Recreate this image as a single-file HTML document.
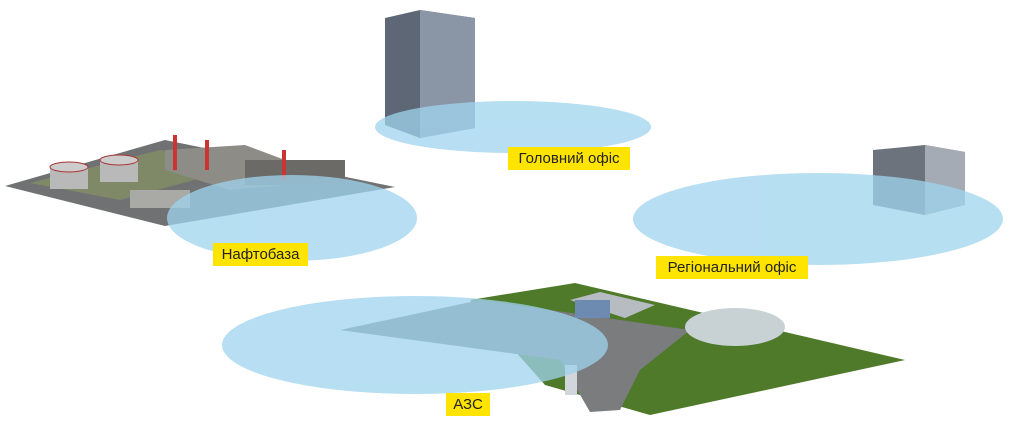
<!DOCTYPE html>
<html><head><meta charset="utf-8"><style>
body{margin:0;background:#fff;width:1024px;height:431px;overflow:hidden}
.l{position:absolute;background:#ffe400;font:15px "Liberation Sans",sans-serif;color:#222;text-align:center;line-height:23px}
</style></head><body>
<svg width="1024" height="431" style="position:absolute;left:0;top:0">
<!-- oil depot -->
<polygon points="5,186 165,140 395,187 165,226" fill="#6f7173"/>
<polygon points="30,183 160,150 250,165 120,200" fill="#8a9a60" opacity=".6"/>
<rect x="50" y="167" width="38" height="22" fill="#b9b9b9"/><ellipse cx="69" cy="167" rx="19" ry="5" fill="#ccc" stroke="#a33"/>
<rect x="100" y="160" width="38" height="22" fill="#b9b9b9"/><ellipse cx="119" cy="160" rx="19" ry="5" fill="#ccc" stroke="#a33"/>
<polygon points="165,150 245,145 285,160 285,185 230,190 165,170" fill="#8e8c86"/>
<rect x="245" y="160" width="100" height="25" fill="#6b6a67"/>
<rect x="173" y="135" width="4" height="35" fill="#c33"/><rect x="205" y="140" width="4" height="30" fill="#c33"/><rect x="282" y="150" width="4" height="30" fill="#c33"/>
<rect x="130" y="190" width="60" height="18" fill="#a9a9a5"/>
<!-- head office -->
<polygon points="385,18 420,10 475,18 475,128 420,138 385,125" fill="#5d6775"/>
<polygon points="420,10 475,18 475,128 420,138" fill="#8a96a6"/>
<!-- regional office -->
<polygon points="873,150 925,145 965,152 965,205 925,215 873,205" fill="#6d737c"/>
<polygon points="925,145 965,152 965,205 925,215" fill="#a4abb4"/>
<!-- gas station -->
<polygon points="470,300 575,283 905,360 650,415 545,385" fill="#4f7a2a"/>
<polygon points="340,330 480,300 690,330 640,370 620,410 590,412 560,360" fill="#7a7c7e"/>
<polygon points="570,300 600,292 655,305 625,318" fill="#b7bcc2"/>
<rect x="575" y="300" width="35" height="18" fill="#6d8ab0"/>
<ellipse cx="735" cy="327" rx="50" ry="19" fill="#c8d2d4"/>
<rect x="565" y="365" width="12" height="30" fill="#d0d6dc"/>
<!-- ellipses -->
<g fill="#9fd4ee" opacity=".75">
<ellipse cx="513" cy="127" rx="138" ry="26"/>
<ellipse cx="818" cy="219" rx="185" ry="46"/>
<ellipse cx="292" cy="218" rx="125" ry="43"/>
<ellipse cx="415" cy="345" rx="193" ry="49"/>
</g>
</svg>
<div class="l" style="left:508px;top:147px;width:122px">Головний офіс</div>
<div class="l" style="left:656px;top:256px;width:152px">Регіональний офіс</div>
<div class="l" style="left:213px;top:243px;width:95px">Нафтобаза</div>
<div class="l" style="left:446px;top:393px;width:44px">АЗС</div>
</body></html>
